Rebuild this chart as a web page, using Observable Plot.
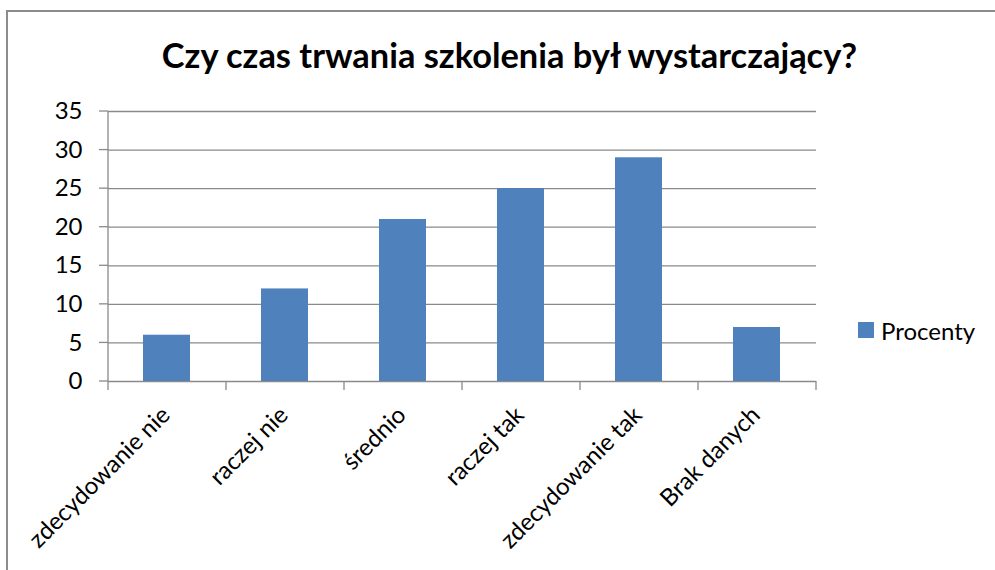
<!DOCTYPE html>
<html>
<head>
<meta charset="utf-8">
<script src="https://cdn.jsdelivr.net/npm/d3@7"></script>
<script src="https://cdn.jsdelivr.net/npm/@observablehq/plot@0.6"></script>
<style>
  html, body { margin: 0; padding: 0; background: #fff; }
  #wrap { position: relative; width: 995px; height: 570px; overflow: hidden; background: #fff; font-family: Lato, "Open Sans", sans-serif; color: #000; }
  #border { position: absolute; left: 6px; top: 10px; width: 1200px; height: 800px; border-top: 2px solid #8c8c8c; border-left: 2px solid #8c8c8c; }
  #title { position: absolute; left: 0; top: 37.5px; width: 1019px; text-align: center; font-weight: bold; font-size: 34.4px; line-height: 34.4px; white-space: nowrap; }
  #chart { position: absolute; left: 0; top: 90px; }
  #legend { position: absolute; left: 858px; top: 315px; height: 30px; display: flex; align-items: center; font-size: 24px; white-space: nowrap; }
  #legend .sw { width: 16px; height: 16px; margin-right: 7px; }
</style>
</head>
<body>
<div id="wrap">
  <div id="border"></div>
  <div id="title"></div>
  <div id="chart"></div>
  <div id="legend"></div>
</div>
<script>
const titleText = "Czy czas trwania szkolenia był wystarczający?";
const categories = ["zdecydowanie nie", "raczej nie", "średnio", "raczej tak", "zdecydowanie tak", "Brak danych"];
const values = [6, 12, 21, 25, 29, 7];
const yTicks = [0, 5, 10, 15, 20, 25, 30, 35];
const seriesName = "Procenty";

const barColor = "#4F81BD";
const gridColor = "#8a8a8a";

const data = categories.map((c, i) => ({category: c, value: values[i]}));

document.getElementById("title").textContent = titleText;
const legend = document.getElementById("legend");
legend.innerHTML = `<div class="sw" style="background:${barColor}"></div><span>${seriesName}</span>`;

function axisLines(index, scales, vals, dims) {
  const g = d3.create("svg:g").attr("stroke", gridColor).attr("stroke-width", 1.3).attr("fill", "none");
  const x0 = dims.marginLeft, x1 = dims.width - dims.marginRight;
  const yb = dims.height - dims.marginBottom, yt = dims.marginTop;
  g.append("line").attr("x1", x0).attr("x2", x0).attr("y1", yt).attr("y2", yb);
  for (const t of yTicks) {
    const y = scales.y(t);
    g.append("line").attr("x1", x0 - 9).attr("x2", x0).attr("y1", y).attr("y2", y);
  }
  const step = (x1 - x0) / categories.length;
  for (let i = 0; i <= categories.length; i++) {
    const x = x0 + i * step;
    g.append("line").attr("x1", x).attr("x2", x).attr("y1", yb).attr("y2", yb + 9);
  }
  return g.node();
}

const chart = Plot.plot({
  width: 995,
  height: 480,
  marginLeft: 108,
  marginRight: 179,
  marginTop: 21,
  marginBottom: 189,
  style: {fontFamily: "Lato, 'Open Sans', sans-serif", fontSize: "24px", color: "#000", background: "transparent", overflow: "visible"},
  x: {domain: categories, paddingInner: 0.6, paddingOuter: 0.3, axis: null},
  y: {domain: [0, 35], axis: null},
  marks: [
    Plot.ruleY(yTicks, {stroke: gridColor, strokeWidth: 1.3}),
    Plot.barY(data, {x: "category", y: "value", fill: barColor}),
    axisLines,
    Plot.axisY({ticks: yTicks, tickSize: 0, tickPadding: 26, fontSize: 24, label: null}),
    Plot.text(categories, {x: d => d, frameAnchor: "bottom", textAnchor: "end", lineAnchor: "bottom", rotate: -45, dx: 4.5, dy: 35, fontSize: 24})
  ]
});
document.getElementById("chart").appendChild(chart);
</script>
</body>
</html>
